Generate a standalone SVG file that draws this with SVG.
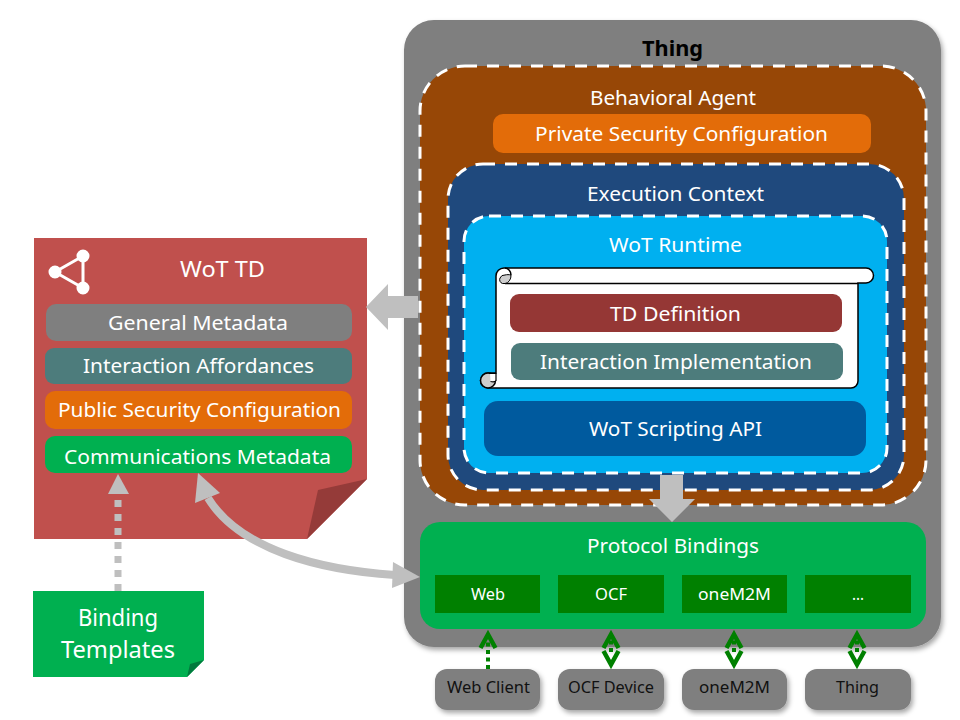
<svg xmlns="http://www.w3.org/2000/svg" width="960" height="720" viewBox="0 0 960 720">
<style>
text{font-family:"Noto Sans","Open Sans","Liberation Sans",sans-serif;fill:#fff;font-size:20px;text-anchor:middle}
.s{font-size:16px}.k{fill:#111;font-size:17px}
.dash{stroke:#fff;stroke-width:3;stroke-dasharray:12 10}
.grey{fill:#7f7f7f}.teal{fill:#4d7c7c}.orange{fill:#e36c09}.green{fill:#00b050}.dk{fill:#008000}
.cl{fill:#7f7f7f;filter:url(#sh)}
.gs{fill:#bfbfbf}.gl{fill:none;stroke:#bfbfbf}
.gd{fill:none;stroke:#008000;stroke-width:4}
.ch{fill:none;stroke:#008000;stroke-width:4.500}
</style>
<defs>
<filter id="sh" x="-10%" y="-10%" width="125%" height="125%"><feDropShadow dx="2" dy="3" stdDeviation="2.5" flood-color="#000" flood-opacity="0.35"/></filter>
</defs>
<rect width="960" height="720" fill="#fff"/>
<g id="thing">
<rect x="404" y="20" width="537" height="627" rx="30" class="grey" filter="url(#sh)"/>
<text x="672.500" y="56" style="font-weight:700;font-size:22px;fill:#000" textLength="61" lengthAdjust="spacingAndGlyphs">Thing</text>
</g>
<g id="behavioral-agent">
<rect x="420" y="66" width="506" height="439" rx="45" fill="#974706" class="dash"/>
<text x="673" y="105" textLength="166" lengthAdjust="spacingAndGlyphs">Behavioral Agent</text>
</g>
<g id="private-security">
<rect x="493" y="114" width="378" height="39" rx="10" class="orange"/>
<text x="681.500" y="141" textLength="293" lengthAdjust="spacingAndGlyphs">Private Security Configuration</text>
</g>
<g id="execution-context">
<rect x="448" y="164" width="456" height="326" rx="35" fill="#1f497d" class="dash"/>
<text x="675.500" y="201" textLength="177" lengthAdjust="spacingAndGlyphs">Execution Context</text>
</g>
<g id="wot-runtime">
<rect x="464" y="216" width="423" height="257" rx="25" fill="#00b0f0" class="dash"/>
<text x="675.500" y="252" textLength="133" lengthAdjust="spacingAndGlyphs">WoT Runtime</text>
</g>
<g id="scroll">
<path d="M496 276a8 8 0 0 1 8-8H866a7.500 7.500 0 0 1 0 15H858V381a7 7 0 0 1-7 7H488a7.500 7.500 0 0 1 0-15H496Z" fill="#fff" stroke="#000" stroke-width="1.500"/>
<path d="M505 283.500H858" fill="none" stroke="#000" stroke-width="1.500"/>
<path d="M511 275A6.500 8 0 0 1 505 283.500H502.500A4 4 0 0 1 500 278A5 5 0 0 1 505 275C507 274.500 509 274.500 511 275Z" fill="#cdcdcd" stroke="#000" stroke-width="1"/>
<path d="M505 268a6.500 7 0 0 1 6 7" fill="none" stroke="#000" stroke-width="1.500"/>
<circle cx="488" cy="380.500" r="7.500" fill="#cdcdcd" stroke="#000" stroke-width="1.500"/>
<path d="M490 373.500H496V380.500Q495 382.500 490.500 381.500" fill="#fff" stroke="#000" stroke-width="1.200"/>
</g>
<g id="td-definition">
<rect x="510" y="294" width="332" height="38" rx="9" fill="#953735"/>
<text x="675.500" y="321" textLength="131" lengthAdjust="spacingAndGlyphs">TD Definition</text>
</g>
<g id="interaction-implementation">
<rect x="511" y="343" width="332" height="37" rx="9" class="teal"/>
<text x="676" y="369" textLength="272" lengthAdjust="spacingAndGlyphs">Interaction Implementation</text>
</g>
<g id="scripting-api">
<rect x="484" y="401" width="382" height="55" rx="14" fill="#005a9e"/>
<text x="675.500" y="436" textLength="173" lengthAdjust="spacingAndGlyphs">WoT Scripting API</text>
</g>
<g id="protocol-bindings">
<rect x="420" y="522" width="506" height="107" rx="20" class="green"/>
<text x="673" y="553" textLength="172" lengthAdjust="spacingAndGlyphs">Protocol Bindings</text>
</g>
<g id="binding-web"><rect x="435" y="575" width="105" height="38" class="dk"/><text class="s" x="488" y="600" textLength="34" lengthAdjust="spacingAndGlyphs">Web</text></g>
<g id="binding-ocf"><rect x="558" y="575" width="106" height="38" class="dk"/><text class="s" x="611" y="600" textLength="32" lengthAdjust="spacingAndGlyphs">OCF</text></g>
<g id="binding-onem2m"><rect x="682" y="575" width="105" height="38" class="dk"/><text class="s" x="734.500" y="600" textLength="73" lengthAdjust="spacingAndGlyphs">oneM2M</text></g>
<g id="binding-more"><rect x="805" y="575" width="106" height="38" class="dk"/><text class="s" x="858" y="600" textLength="12" lengthAdjust="spacingAndGlyphs">...</text></g>
<g id="web-client"><rect x="435" y="669" width="105" height="41" rx="12" class="cl"/><text class="k" x="488.500" y="693" textLength="83" lengthAdjust="spacingAndGlyphs">Web Client</text></g>
<g id="ocf-device"><rect x="558" y="669" width="106" height="41" rx="12" class="cl"/><text class="k" x="611" y="693" textLength="86" lengthAdjust="spacingAndGlyphs">OCF Device</text></g>
<g id="onem2m"><rect x="682" y="669" width="105" height="41" rx="12" class="cl"/><text class="k" x="734.500" y="693" textLength="71" lengthAdjust="spacingAndGlyphs">oneM2M</text></g>
<g id="thing-device"><rect x="805" y="669" width="106" height="41" rx="12" class="cl"/><text class="k" x="857.500" y="693" textLength="43" lengthAdjust="spacingAndGlyphs">Thing</text></g>
<g id="wot-td">
<path d="M34 238H367V479L307 539H34Z" fill="#c0504d"/>
<path d="M367 479L318 490L307 539Z" fill="#953b39"/>
<g fill="#fff" stroke="#fff" stroke-width="3"><path d="M83 256L55 272L83 288Z" fill="none"/><circle cx="83" cy="256" r="5"/><circle cx="55" cy="272" r="5"/><circle cx="83" cy="288" r="5"/></g>
<text x="222.500" y="277" style="font-size:22px" textLength="85" lengthAdjust="spacingAndGlyphs">WoT TD</text>
</g>
<g id="general-metadata"><rect x="46" y="304" width="306" height="37" rx="10" class="grey"/><text x="198" y="330" textLength="180" lengthAdjust="spacingAndGlyphs">General Metadata</text></g>
<g id="interaction-affordances"><rect x="45" y="348" width="307" height="36" rx="9" class="teal"/><text x="198.500" y="373" textLength="231" lengthAdjust="spacingAndGlyphs">Interaction Affordances</text></g>
<g id="public-security"><rect x="45" y="391" width="307" height="38" rx="10" class="orange"/><text x="199.500" y="417" textLength="283" lengthAdjust="spacingAndGlyphs">Public Security Configuration</text></g>
<g id="communications-metadata"><rect x="45" y="436" width="307" height="37" rx="10" class="green"/><text x="197.500" y="464" textLength="267" lengthAdjust="spacingAndGlyphs">Communications Metadata</text></g>
<g id="binding-templates">
<path d="M33 591H204V660L187 677H33Z" class="green"/>
<path d="M204 660L190 664L187 677Z" fill="#007a3d"/>
<text x="118" y="626" style="font-size:24px" textLength="80" lengthAdjust="spacingAndGlyphs">Binding</text>
<text x="118" y="658" style="font-size:24px" textLength="114" lengthAdjust="spacingAndGlyphs">Templates</text>
</g>
<g id="connectors">
<path d="M366 307L388 284V296H418V318H388V330Z" class="gs"/>
<path d="M660 475H683V499H695L672 522L649 499H660Z" class="gs"/>
<path d="M118 591V500" class="gl" stroke-width="7" stroke-dasharray="7 7"/>
<path d="M118 474L129 494H108Z" class="gs"/>
<path d="M208 498C240 550 320 570 395 575" class="gl" stroke-width="8"/>
<path d="M198 473L220 493L195 503Z" class="gs"/>
<path d="M420 577L393 562L392 588Z" class="gs"/>
<path d="M488 669V640" class="gd" stroke-dasharray="4 3.500"/>
<path d="M480.500 648L488 634.500L495.500 648" class="ch"/>
<path d="M611 652V640" class="gd" stroke-dasharray="4 3.500"/>
<path d="M603.500 648L611 634.500L618.500 648M603.500 651L611 664.500L618.500 651" class="ch"/>
<path d="M734 652V640" class="gd" stroke-dasharray="4 3.500"/>
<path d="M726.500 648L734 634.500L741.500 648M726.500 651L734 664.500L741.500 651" class="ch"/>
<path d="M857 652V640" class="gd" stroke-dasharray="4 3.500"/>
<path d="M849.500 648L857 634.500L864.500 648M849.500 651L857 664.500L864.500 651" class="ch"/>
</g>
</svg>
